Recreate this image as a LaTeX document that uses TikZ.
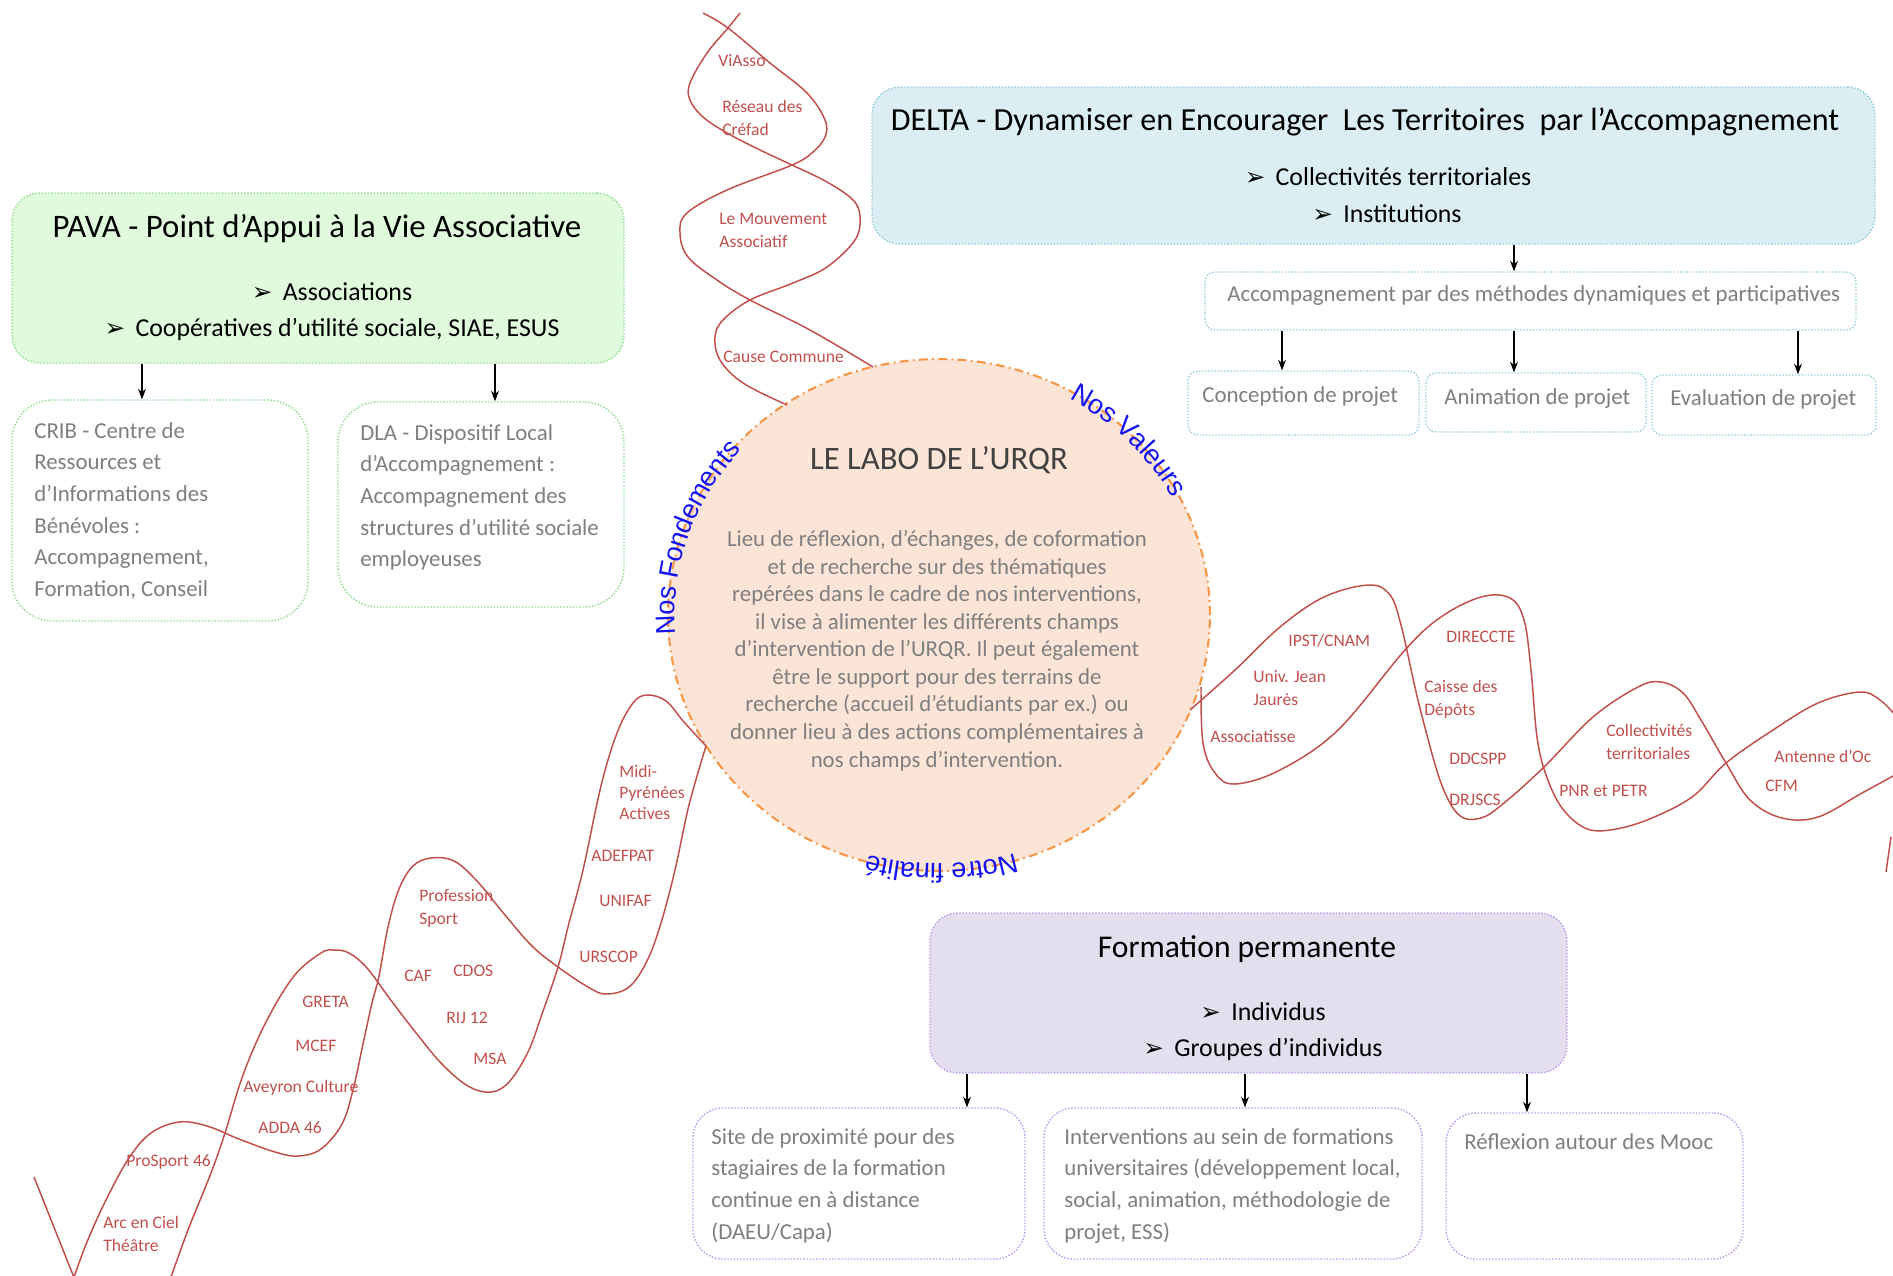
\documentclass[tikz,border=0pt]{standalone}
\usepackage{fontspec}
\setmainfont{Carlito}
\newfontfamily\dejavu{DejaVu Sans}
\newfontfamily\arialfont{Liberation Sans}
\usetikzlibrary{arrows.meta,shapes.geometric,decorations.text,fit}

\definecolor{pavafill}{HTML}{E0FBDC}
\definecolor{pavaline}{HTML}{8CDC8C}
\definecolor{deltafill}{HTML}{DAEEF3}
\definecolor{deltaline}{HTML}{92CDDC}
\definecolor{formfill}{HTML}{E4DFEE}
\definecolor{formline}{HTML}{BC96F0}
\definecolor{labofill}{HTML}{FCE4D6}
\definecolor{laboline}{HTML}{F79646}
\definecolor{labotitle}{HTML}{404040}
\definecolor{helixred}{HTML}{C0504D}
\definecolor{infogray}{HTML}{7F7F7F}
\definecolor{ringblue}{HTML}{1414F0}

\newcommand{\puce}{{\dejavu\fontsize{14}{14}\selectfont ➢}\hspace{0.4em}}

\tikzset{
  box/.style={rounded corners=0.55cm, densely dotted, line width=0.8pt, inner sep=0pt},
  pavabox/.style={box, draw=pavaline, fill=pavafill},
  pavachild/.style={box, draw=pavaline, fill=white, rounded corners=0.8cm},
  deltabox/.style={box, draw=deltaline, fill=deltafill},
  deltachild/.style={box, draw=deltaline, fill=white, rounded corners=0.2cm},
  formbox/.style={box, draw=formline, fill=formfill},
  formchild/.style={box, draw=formline, fill=white, rounded corners=0.6cm},
  labo/.style={ellipse, inner sep=0pt, minimum width=10.84cm, minimum height=10.24cm,
    fill=labofill, draw=laboline, line width=1.2pt, dash pattern=on 5pt off 2.5pt on 1pt off 2.5pt},
  title/.style={anchor=base, inner sep=0pt, font=\fontsize{18}{22}\selectfont},
  bullet/.style={anchor=base, inner sep=0pt, font=\fontsize{14.7}{17}\selectfont},
  info/.style={anchor=north west, inner sep=0pt, align=left, text=infogray,
    font=\fontsize{13}{18}\selectfont, execute at begin node=\strut},
  info line/.style={anchor=base west, inner sep=0pt, text=infogray, font=\fontsize{13}{18}\selectfont},
  labotext/.style={anchor=north, inner sep=0pt, align=center, text=infogray,
    font=\fontsize{13}{15.7}\selectfont, execute at begin node=\strut},
  partner/.style={anchor=north west, inner sep=0pt, align=left, text=helixred,
    font=\fontsize{10}{13}\selectfont, execute at begin node=\strut},
  helix/.style={draw=helixred, line width=0.85pt},
  ringtext/.style={decorate, decoration={text along path, text align=center, raise=-4pt,
    text color=ringblue, text={|\arialfont\fontsize{15.5}{18}\selectfont|#1}}}
}

\begin{document}
\begin{tikzpicture}[x=0.02cm, y=-0.02cm, >={Stealth[length=6pt,width=4.5pt]}]
  \useasboundingbox (0,0) rectangle (1893,1275);

  \node[labo] (labo) at (939,615) {};
  \path[ringtext=Nos Fondements] (labo.center) ++({271*cos(165)},{256*sin(165)})
    arc[start angle=165, end angle=232, x radius=271, y radius=256];
  \path[ringtext=Nos Valeurs] (labo.center) ++({271*cos(286)},{256*sin(286)})
    arc[start angle=286, end angle=346, x radius=271, y radius=256];
  \path[ringtext=Notre finalité] (labo.center) ++({271*cos(55)},{256*sin(55)})
    arc[start angle=55, end angle=124, x radius=271, y radius=256];
  \node[title, text=labotitle, font=\fontsize{18.6}{22}\selectfont] (labotitle) at (939,469) {LE LABO DE L’URQR};
  \node[labotext] (labobody) at (937,530) {Lieu de réflexion, d’échanges, de coformation\\
    et de recherche sur des thématiques\\repérées dans le cadre de nos interventions,\\
    il vise à alimenter les différents champs\\d’intervention de l’URQR. Il peut également\\
    être le support pour des terrains de\\recherche (accueil d’étudiants par ex.) ou\\
    donner lieu à des actions complémentaires à\\nos champs d’intervention.};

  \draw[helix] plot[smooth, tension=0.6] coordinates {(703,13) (728,28) (770,63) (807,93)
    (825,120) (825,137) (813,152) (792,165) (727,190) (687,213) (680,233) (688,257)
    (717,280) (750,300) (810,330) (873,367)};
  \draw[helix] plot[smooth, tension=0.6] coordinates {(740,13) (728,28) (707,53) (690,83)
    (690,100) (703,117) (727,133) (760,150) (792,165) (827,182) (853,200) (860,217)
    (855,240) (827,267) (793,283) (750,300) (723,320) (715,337) (720,360) (743,383) (787,405)};

  \draw[helix] plot[smooth, tension=0.6] coordinates {(1201,687) (1203,743) (1215,773)
    (1235,784) (1280,770) (1338,730) (1405,650) (1441,617) (1481,597) (1510,598)
    (1524,620) (1531,670) (1537,737) (1546,775) (1562,808) (1585,828) (1610,830)
    (1647,820) (1692,797) (1726,763) (1773,730) (1818,703) (1860,692) (1880,700) (1895,715)};
  \draw[helix] plot[smooth, tension=0.6] coordinates {(1190,710) (1235,670) (1280,627)
    (1324,597) (1369,585) (1390,595) (1401,625) (1414,683) (1423,720) (1441,783)
    (1459,815) (1481,818) (1504,803) (1544,767) (1593,717) (1638,687) (1661,682)
    (1683,693) (1701,720) (1726,763) (1750,800) (1782,818) (1818,817) (1862,793) (1895,775)};
  \draw[helix] (1891,837) -- (1886,872);

  \draw[helix] (34,1177) -- (75,1280);
  \draw[helix] plot[smooth, tension=0.6] coordinates {(73,1280) (87,1242) (106,1200)
    (129,1158) (151,1133) (179,1122) (207,1126) (239,1139) (275,1152) (298,1156)
    (321,1149) (342,1124) (353,1090) (363,1044) (372,1003) (379,976) (388,927) (399,889)
    (413,866) (431,858) (454,861) (477,881) (505,915) (532,946) (558,967) (588,987)
    (606,994) (629,987) (647,961) (661,923) (675,870) (689,805) (706,746)};
  \draw[helix] plot[smooth, tension=0.6] coordinates {(170,1280) (188,1230) (211,1173)
    (225,1133) (243,1075) (266,1022) (294,976) (321,953) (334,950) (349,953) (367,968)
    (390,999) (413,1029) (441,1063) (468,1086) (491,1092) (509,1082) (528,1052)
    (542,1014) (558,967) (569,923) (583,870) (601,786) (617,733) (633,703) (647,695)
    (666,701) (684,722) (706,746)};

  \node[partner] (viasso) at (718,50) {ViAsso};
  \node[partner] (crefad) at (722,100) {Réseau des\\Créfad};
  \node[partner] (mouvement) at (719,213) {Le Mouvement\\Associatif};
  \node[partner] (cause) at (723,346) {Cause Commune};
  \node[partner] (ipst) at (1288,630) {IPST/CNAM};
  \node[partner] (jaures) at (1253,670) {Univ. Jean\\Jaurès};
  \node[partner] (associatisse) at (1210,726) {Associatisse};
  \node[partner] (direccte) at (1446,626) {DIRECCTE};
  \node[partner] (caisse) at (1424,680) {Caisse des\\Dépôts};
  \node[partner] (ddcspp) at (1449,748) {DDCSPP};
  \node[partner] (drjscs) at (1449,789) {DRJSCS};
  \node[partner] (collect) at (1606,724) {Collectivités\\territoriales};
  \node[partner] (pnr) at (1559,780) {PNR et PETR};
  \node[partner] (antenne) at (1774,746) {Antenne d’Oc};
  \node[partner] (cfm) at (1765,775) {CFM};
  \node[partner, font=\fontsize{10}{12}\selectfont] (mpa) at (619,765) {Midi-\\Pyrénées\\Actives};
  \node[partner] (adefpat) at (591,845) {ADEFPAT};
  \node[partner] (unifaf) at (599,890) {UNIFAF};
  \node[partner] (urscop) at (579,946) {URSCOP};
  \node[partner] (profsport) at (419,889) {Profession\\Sport};
  \node[partner] (caf) at (404,965) {CAF};
  \node[partner] (cdos) at (453,960) {CDOS};
  \node[partner] (rij) at (446,1007) {RIJ 12};
  \node[partner] (msa) at (473,1048) {MSA};
  \node[partner] (greta) at (302,991) {GRETA};
  \node[partner] (mcef) at (295,1035) {MCEF};
  \node[partner] (aveyron) at (243,1076) {Aveyron Culture};
  \node[partner] (adda) at (258,1117) {ADDA 46};
  \node[partner] (prosport) at (126,1150) {ProSport 46};
  \node[partner] (arcenciel) at (103,1216) {Arc en Ciel\\Théâtre};

  \node[pavabox, fit={(12,193) (624,363)}] (pava) {};
  \node[title, font=\fontsize{18.7}{22}\selectfont] (pavatitle) at (317,237) {PAVA - Point d’Appui à la Vie Associative};
  \node[bullet] (pavab1) at (332,300) {\puce Associations};
  \node[bullet] (pavab2) at (332,336) {\puce Coopératives d’utilité sociale, SIAE, ESUS};
  \node[pavachild, fit={(12,400) (308,621)}] (crib) {};
  \node[info] (cribtext) at (34,422) {CRIB - Centre de\\Ressources et\\d’Informations des\\
    Bénévoles :\\Accompagnement,\\Formation, Conseil};
  \node[pavachild, fit={(338,402) (624,607)}] (dla) {};
  \node[info] (dlatext) at (360,424) {DLA - Dispositif Local\\d’Accompagnement :\\
    Accompagnement des\\structures d’utilité sociale\\employeuses};
  \draw[->, semithick] (pava.south -| 142,0) -- (crib.north -| 142,0);
  \draw[->, semithick] (pava.south -| 495,0) -- (dla.north -| 495,0);

  \node[deltabox, fit={(872,87) (1875,244)}] (delta) {};
  \node[title, font=\fontsize{18.3}{22}\selectfont] (deltatitle) at (1365,130) {DELTA - Dynamiser en Encourager\ \ Les Territoires\ \ par l’Accompagnement};
  \node[bullet] (deltab1) at (1388,185) {\puce Collectivités territoriales};
  \node[bullet] (deltab2) at (1387,222) {\puce Institutions};
  \node[deltachild, fit={(1205,272) (1856,330)}] (accomp) {};
  \node[info line] (accomptext) at (1227,301) {Accompagnement par des méthodes dynamiques et participatives};
  \node[deltachild, fit={(1188,371) (1419,435)}] (conception) {};
  \node[info line] (conceptiontext) at (1202,402) {Conception de projet};
  \node[deltachild, fit={(1426,373) (1646,432)}] (animation) {};
  \node[info line] (animationtext) at (1444,404) {Animation de projet};
  \node[deltachild, fit={(1652,375) (1876,435)}] (evaluation) {};
  \node[info line] (evaluationtext) at (1670,405) {Evaluation de projet};
  \draw[->, semithick] (delta.south -| 1514,0) -- (accomp.north -| 1514,0);
  \draw[->, semithick] (accomp.south -| 1282,0) -- (conception.north -| 1282,0);
  \draw[->, semithick] (accomp.south -| 1514,0) -- (animation.north -| 1514,0);
  \draw[->, semithick] (accomp.south -| 1798,0) -- (evaluation.north -| 1798,0);

  \node[formbox, fit={(930,913) (1567,1073)}] (formation) {};
  \node[title] (formtitle) at (1247,957) {Formation permanente};
  \node[bullet] (formb1) at (1263,1020) {\puce Individus};
  \node[bullet] (formb2) at (1263,1056) {\puce Groupes d’individus};
  \node[formchild, fit={(693,1108) (1025,1259)}] (site) {};
  \node[info] (sitetext) at (711,1128) {Site de proximité pour des\\stagiaires de la formation\\
    continue en à distance\\(DAEU/Capa)};
  \node[formchild, fit={(1044,1108) (1422,1259)}] (univ) {};
  \node[info] (univtext) at (1064,1128) {Interventions au sein de formations\\
    universitaires (développement local,\\social, animation, méthodologie de\\projet, ESS)};
  \node[formchild, fit={(1446,1113) (1743,1259)}] (mooc) {};
  \node[info line] (mooctext) at (1464,1149) {Réflexion autour des Mooc};
  \draw[->, semithick] (formation.south -| 967,0) -- (site.north -| 967,0);
  \draw[->, semithick] (formation.south -| 1245,0) -- (univ.north -| 1245,0);
  \draw[->, semithick] (formation.south -| 1527,0) -- (mooc.north -| 1527,0);
\end{tikzpicture}
\end{document}
